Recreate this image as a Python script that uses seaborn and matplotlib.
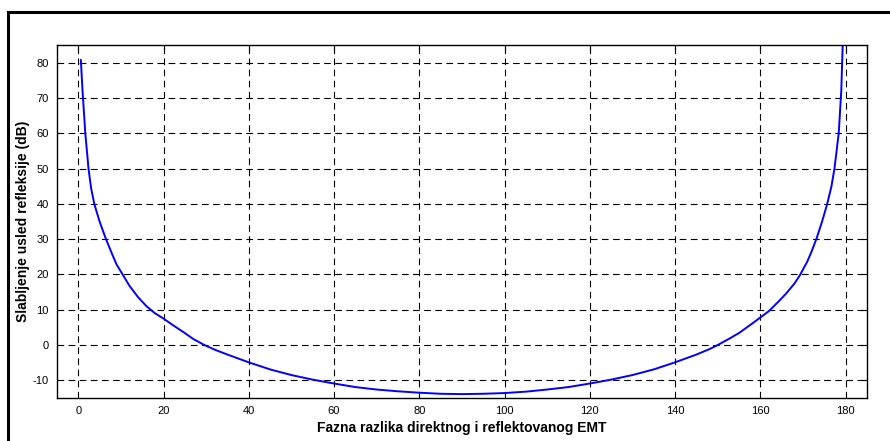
import matplotlib
matplotlib.use("Agg")
import matplotlib.pyplot as plt
import pandas as pd
import seaborn as sns
from matplotlib.patches import Rectangle

# phase difference (deg) and attenuation (dB)
phase = [0.6, 1.0, 1.65, 2.4, 3.0, 3.75, 5.0, 6.5, 8.0, 9.0, 10.4, 12.0, 14.0,
         16.0, 18.0, 20.0, 22.0, 25.0, 27.0, 29.6, 32.0, 35.0, 40.0, 45.0,
         50.0, 55.0, 60.0, 65.0, 70.0, 75.0, 80.0, 85.0, 90.0, 95.0, 100.0,
         105.0, 110.0, 115.0, 120.0, 125.0, 130.0, 135.0, 140.0, 145.0, 148.0,
         150.0, 153.0, 155.0, 158.0, 160.0, 162.0, 164.0, 166.0, 168.0, 169.3,
         171.0, 172.0, 173.2, 174.5, 175.7, 176.7, 177.4, 178.4, 179.0, 179.4]
attenuation = [80.8, 72.0, 60.0, 50.0, 44.5, 40.0, 35.0, 30.0, 25.6, 22.8, 20.0,
               16.8, 13.6, 11.0, 9.0, 7.5, 5.8, 3.4, 1.7, 0.0, -1.3, -2.7,
               -4.9, -6.9, -8.5, -9.8, -10.9, -11.9, -12.6, -13.1, -13.5, -13.8,
               -13.9, -13.8, -13.6, -13.2, -12.6, -11.9, -10.9, -9.8, -8.5,
               -6.9, -4.9, -2.7, -1.2, 0.0, 2.0, 3.4, 6.0, 7.8, 9.6, 12.0,
               14.5, 17.4, 19.8, 23.6, 26.4, 30.2, 35.0, 40.0, 45.0, 50.0, 60.0,
               72.0, 88.0]

df = pd.DataFrame({"phase": phase, "att": attenuation})

sns.set_style("white")
plt.rcParams["font.family"] = ["Liberation Sans", "DejaVu Sans"]
plt.rcParams["axes.unicode_minus"] = False
plt.rcParams["text.color"] = "black"
plt.rcParams["axes.labelcolor"] = "black"

fig = plt.figure(figsize=(8.9, 4.41), dpi=100)
ax = fig.add_axes([0.064, 0.0975, 0.91, 0.8005])

sns.lineplot(data=df, x="phase", y="att", color="#0000ff", linewidth=1.4,
             estimator=None, sort=False, ax=ax)

ax.set_xlim(-5, 185)
ax.set_ylim(-15, 85)
ax.set_xticks(range(0, 181, 20))
ax.set_yticks(range(-10, 81, 10))
ax.grid(True, color="black", linestyle=(0, (6, 4)), linewidth=0.8)
ax.tick_params(direction="in", length=4, width=0.8, top=True, right=True,
               labelsize=8, colors="black", pad=6)
for s in ax.spines.values():
    s.set_color("black")
    s.set_linewidth(1.0)

ax.set_xlabel("Fazna razlika direktnog i reflektovanog EMT", fontsize=10,
              fontweight="bold", labelpad=3)
ax.set_ylabel("Slabljenje usled refleksije (dB)", fontsize=10,
              fontweight="bold", labelpad=2)

# outer frame around the figure (runs off the right and bottom edges)
fig.patches.append(Rectangle((8 / 890, -0.1), 1.0, 1.1 - 12 / 441,
                             transform=fig.transFigure, fill=False,
                             edgecolor="black", linewidth=2.2))

fig.savefig("out.png", dpi=100)
